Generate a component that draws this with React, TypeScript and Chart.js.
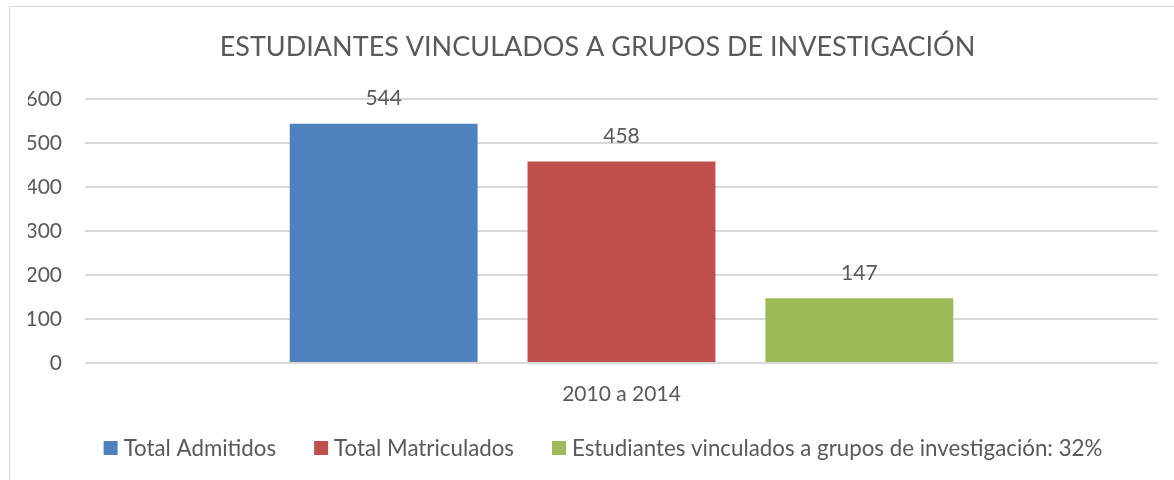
import React, { useEffect, useRef } from "react";
import { Chart, registerables } from "chart.js";

Chart.register(...registerables);

const titleText = "ESTUDIANTES VINCULADOS A GRUPOS DE INVESTIGACIÓN";
const categories = ["2010 a 2014"];
const seriesNames = [
  "Total Admitidos",
  "Total Matriculados",
  "Estudiantes vinculados a grupos de investigación: 32%",
];
const admitidos = [544];
const matriculados = [458];
const vinculados = [147];
const seriesColors = ["#4F81BD", "#C0504D", "#9BBB59"];
const yTicks = [0, 100, 200, 300, 400, 500, 600];

const FONT = "Lato, 'Open Sans', sans-serif";
const TEXT = "#595959";

const valueLabels = {
  id: "valueLabels",
  afterDatasetsDraw(chart: any) {
    const ctx = chart.ctx;
    ctx.save();
    ctx.font = `21px ${FONT}`;
    ctx.fillStyle = TEXT;
    ctx.textAlign = "center";
    ctx.textBaseline = "middle";
    chart.data.datasets.forEach((ds: any, i: number) => {
      const meta = chart.getDatasetMeta(i);
      meta.data.forEach((el: any, j: number) => {
        ctx.fillText(String(ds.data[j]), el.x, el.y - 25);
      });
    });
    ctx.restore();
  },
};

const customTitle = {
  id: "customTitle",
  afterDraw(chart: any) {
    const ctx = chart.ctx;
    ctx.save();
    ctx.font = `27px ${FONT}`;
    ctx.fillStyle = TEXT;
    ctx.textAlign = "center";
    ctx.textBaseline = "middle";
    ctx.fillText(titleText, 587.5, 40);
    ctx.restore();
  },
};

const customLegend = {
  id: "customLegend",
  afterDraw(chart: any) {
    const ctx = chart.ctx;
    ctx.save();
    ctx.font = `22.3px ${FONT}`;
    ctx.textBaseline = "middle";
    ctx.textAlign = "left";
    const box = 14;
    const gap = 6;
    const itemGap = 38;
    const items = chart.data.datasets.map((ds: any) => ({
      label: ds.label,
      color: ds.backgroundColor,
      w: ctx.measureText(ds.label).width,
    }));
    const total =
      items.reduce((s: number, it: any) => s + box + gap + it.w, 0) + itemGap * (items.length - 1);
    let x = chart.width / 2 - total / 2;
    const y = 441;
    items.forEach((it: any) => {
      ctx.fillStyle = it.color;
      ctx.fillRect(x, y - box / 2, box, box);
      ctx.fillStyle = TEXT;
      ctx.fillText(it.label, x + box + gap, y + 1);
      x += box + gap + it.w + itemGap;
    });
    ctx.restore();
  },
};

export default function App() {
  const ref = useRef<HTMLCanvasElement>(null);
  useEffect(() => {
    const chart = new Chart(ref.current!, {
      type: "bar",
      data: {
        labels: categories,
        datasets: [admitidos, matriculados, vinculados].map((d, i) => ({
          label: seriesNames[i],
          data: d,
          backgroundColor: seriesColors[i],
          borderWidth: 0,
          barPercentage: 0.79,
          categoryPercentage: 0.665,
        })),
      },
      options: {
        animation: false,
        responsive: false,
        maintainAspectRatio: false,
        layout: { padding: { left: 18, right: 38, top: 92, bottom: 70 } },
        plugins: {
          title: { display: false },
          legend: { display: false },
          tooltip: { enabled: false },
        },
        scales: {
          x: {
            grid: { display: false, drawTicks: false },
            border: { display: false },
            ticks: { color: TEXT, font: { family: FONT, size: 21 }, padding: 19 },
            afterFit: (axis: any) => {
              axis.height = 47;
            },
          },
          y: {
            min: 0,
            max: 600,
            afterBuildTicks: (axis: any) => {
              axis.ticks = yTicks.map((v) => ({ value: v }));
            },
            grid: { color: "#D9D9D9", lineWidth: 2, drawTicks: false },
            border: { display: false },
            ticks: { color: TEXT, font: { family: FONT, size: 21 }, padding: 23 },
            afterFit: (axis: any) => {
              axis.width = 57;
            },
          },
        },
      },
      plugins: [valueLabels, customTitle, customLegend],
    });
    return () => chart.destroy();
  }, []);
  return (
    <div style={{ position: "fixed", inset: 0, overflow: "hidden", background: "#fff" }}>
      <div
        style={{
          position: "absolute",
          left: 9,
          top: 6,
          width: 1188,
          height: 490,
          border: "1px solid #D9D9D9",
          boxSizing: "border-box",
        }}
      >
        <canvas ref={ref} width={1186} height={473} style={{ display: "block" }} />
      </div>
    </div>
  );
}
